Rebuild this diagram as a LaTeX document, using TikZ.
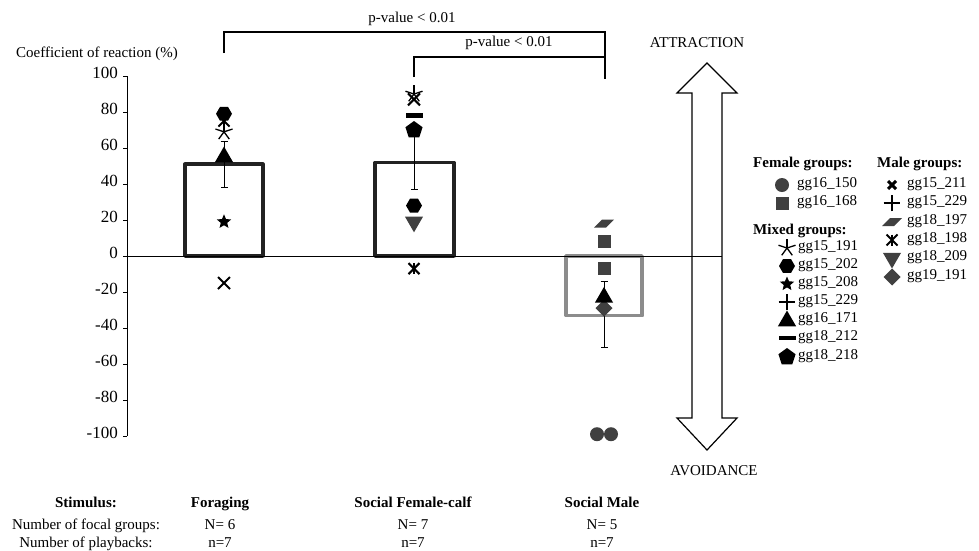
\documentclass[tikz,border=0pt]{standalone}
\usepackage{fontspec}
\setmainfont{Liberation Serif}
\usetikzlibrary{shapes.geometric,shapes.misc,shadows,arrows.meta}
\definecolor{mkgray}{RGB}{64,64,64}
\definecolor{barblack}{RGB}{34,34,34}
\definecolor{bargray}{RGB}{140,140,140}
\tikzstyle{lbl}=[inner sep=0pt, text height=1.5ex, text depth=.25ex]
\tikzstyle{mk}=[inner sep=0pt, outer sep=0pt]
\tikzstyle{fcirc}=[mk, circle, fill=mkgray, minimum size=14pt]
\tikzstyle{fsq}=[mk, rectangle, fill=mkgray, minimum size=13pt]
\tikzstyle{fstar}=[mk, star, star points=5, star point ratio=2.2, fill=black, minimum size=15pt]
\tikzstyle{fhex}=[mk, regular polygon, regular polygon sides=6, fill=black, minimum size=16pt]
\tikzstyle{fpent}=[mk, regular polygon, regular polygon sides=5, fill=black, minimum size=18pt]
\tikzstyle{ftri}=[mk, regular polygon, regular polygon sides=3, fill=black, minimum size=21pt]
\tikzstyle{fdtri}=[ftri, shape border rotate=180, fill=mkgray]
\tikzstyle{fdia}=[mk, diamond, fill=mkgray, minimum size=17pt]
\tikzstyle{fpar}=[mk, rectangle, fill=mkgray, minimum width=12pt, minimum height=8pt, xslant=1]
\tikzstyle{fdash}=[mk, rectangle, fill=black, minimum width=17pt, minimum height=4.5pt]
\tikzstyle{xbold}=[mk, cross out, draw, line width=3pt, minimum size=8pt]
\tikzstyle{xthin}=[mk, cross out, draw, line width=2pt, minimum size=12pt]
\tikzstyle{pls}=[mk, cross out, draw, rotate=45, line width=2.5pt, minimum size=12pt]
\tikzstyle{ast}=[mk, cross out, draw, line width=2pt, minimum size=11pt,
  append after command={(\tikzlastnode.north) edge[line width=2pt] (\tikzlastnode.south)}]
\tikzstyle{spk}=[mk, circle, minimum size=18pt,
  append after command={(\tikzlastnode.center) edge[line width=1.3pt] (\tikzlastnode.90)
    (\tikzlastnode.center) edge[line width=1.3pt] (\tikzlastnode.162)
    (\tikzlastnode.center) edge[line width=1.3pt] (\tikzlastnode.234)
    (\tikzlastnode.center) edge[line width=1.3pt] (\tikzlastnode.306)
    (\tikzlastnode.center) edge[line width=1.3pt] (\tikzlastnode.18)}]
\tikzstyle{bar}=[line width=3.5pt, line join=round, fill=white, drop shadow={opacity=0.3, shadow xshift=2pt, shadow yshift=-2pt}]
\tikzstyle{err}=[line width=0.8pt, {Bar[width=7pt]}-{Bar[width=7pt]}]
\tikzstyle{brk}=[line width=2.5pt]

\begin{document}
\begin{tikzpicture}[x=1pt, y=-1pt, font=\fontsize{15}{17}\selectfont]
\useasboundingbox[fill=white] (0,0) rectangle (979,550);

% attraction / avoidance arrow
\draw[line width=1.2pt, fill=white] (707,63) -- (737,93) -- (722,93) -- (722,418) -- (737,418)
  -- (707,450) -- (677,418) -- (692,418) -- (692,93) -- (677,93) -- cycle;
\node[lbl] (attr) at (697,45) {ATTRACTION};
\node[lbl] (avoid) at (714,473) {AVOIDANCE};

% axis title
\node[lbl] (ytitle) at (97,55) {Coefficient of reaction (\%)};

\begin{scope}[shift={(0,256)}, y=1.8pt]
  \foreach \v in {100,80,...,-100} {
    \draw (123,\v) -- (127,\v);
    \node[lbl, anchor=east, font=\fontsize{17}{19}\selectfont] (tick\v) at (118,\v) {\v};
  }
  \draw (127,100) -- (127,-100);

  % bars
  \draw[bar, draw=barblack] (185,0) rectangle (263,51);
  \draw[bar, draw=barblack] (375,0) rectangle (454,52);
  \draw[bar, draw=bargray] (566,0) rectangle (642,-33);
  \draw (127,0) -- (722,0);

  % error bars
  \draw[err] (224,38) -- (224,64);
  \draw[err] (414,37) -- (414,68);
  \draw[err] (604,-51) -- (604,-14);

  % Foraging
  \node[xthin] (fo1) at (224,-15) {};
  \node[fstar] (fo2) at (224,19) {};
  \node[ftri] (fo3) at (224,55) {};
  \node[spk] (fo4) at (224,69) {};
  \node[ast] (fo5) at (224,75) {};
  \node[fhex] (fo6) at (224,79) {};

  % Social Female-calf
  \node[ast] (fc1) at (414,-7) {};
  \node[fdtri] (fc2) at (414,19) {};
  \node[fhex] (fc3) at (414,28) {};
  \node[fpent] (fc4) at (414,70) {};
  \node[fdash] (fc5) at (414,78) {};
  \node[xthin] (fc6) at (414,87) {};
  \node[spk] (fc7) at (414,90) {};

  % Social Male
  \node[fcirc] (sm1) at (597,-99) {};
  \node[fcirc] (sm2) at (611,-99) {};
  \node[fdia] (sm3) at (604,-29) {};
  \node[ftri] (sm4) at (604,-23) {};
  \node[fsq] (sm5) at (604,-7) {};
  \node[fsq] (sm6) at (604,8) {};
  \node[fpar] (sm7) at (604,18) {};
\end{scope}

% significance brackets
\coordinate (b1a) at (224,53);
\coordinate (b1b) at (224,32);
\coordinate (b1c) at (605,32);
\coordinate (b1d) at (605,79);
\coordinate (b2a) at (414,77);
\coordinate (b2b) at (414,57);
\coordinate (b2c) at (605,57);
\draw[brk] (b1a) -- (b1b) -- (b1c) -- (b1d);
\draw[brk] (b2a) -- (b2b) -- (b2c);
\node[lbl] (p1) at (412,20) {p-value < 0.01};
\node[lbl] (p2) at (509,44) {p-value < 0.01};

% legend
\node[lbl, anchor=west, font=\fontsize{15}{17}\selectfont\bfseries] (fem) at (753,165) {Female groups:};
\node[fcirc] (lf1) at (782,185) {};
\node[lbl, anchor=west] (lf1t) at (797,185) {gg16\_150};
\node[fsq] (lf2) at (782,203) {};
\node[lbl, anchor=west] (lf2t) at (797,203) {gg16\_168};

\node[lbl, anchor=west, font=\fontsize{15}{17}\selectfont\bfseries] (mix) at (753,232) {Mixed groups:};
\node[spk] (lx1) at (787,248) {};
\node[lbl, anchor=west] (lx1t) at (798,248) {gg15\_191};
\node[fhex] (lx2) at (787,266) {};
\node[lbl, anchor=west] (lx2t) at (798,266) {gg15\_202};
\node[fstar] (lx3) at (787,284) {};
\node[lbl, anchor=west] (lx3t) at (798,284) {gg15\_208};
\node[pls] (lx4) at (787,302) {};
\node[lbl, anchor=west] (lx4t) at (798,302) {gg15\_229};
\node[ftri] (lx5) at (787,321) {};
\node[lbl, anchor=west] (lx5t) at (798,320) {gg16\_171};
\node[fdash] (lx6) at (787,338) {};
\node[lbl, anchor=west] (lx6t) at (798,338) {gg18\_212};
\node[fpent] (lx7) at (787,357) {};
\node[lbl, anchor=west] (lx7t) at (798,357) {gg18\_218};

\node[lbl, anchor=west, font=\fontsize{15}{17}\selectfont\bfseries] (male) at (877,165) {Male groups:};
\node[xbold] (lm1) at (892,185) {};
\node[lbl, anchor=west] (lm1t) at (907,185) {gg15\_211};
\node[pls] (lm2) at (892,203) {};
\node[lbl, anchor=west] (lm2t) at (907,203) {gg15\_229};
\node[fpar] (lm3) at (892,222) {};
\node[lbl, anchor=west] (lm3t) at (907,222) {gg18\_197};
\node[ast] (lm4) at (892,240) {};
\node[lbl, anchor=west] (lm4t) at (907,240) {gg18\_198};
\node[fdtri] (lm5) at (892,258) {};
\node[lbl, anchor=west] (lm5t) at (907,258) {gg18\_209};
\node[fdia] (lm6) at (892,277) {};
\node[lbl, anchor=west] (lm6t) at (907,277) {gg19\_191};

% table below the plot
\node[lbl, font=\fontsize{15}{17}\selectfont\bfseries] (stim) at (86,505) {Stimulus:};
\node[lbl] (nfoc) at (86,527) {Number of focal groups:};
\node[lbl] (npb) at (86,545) {Number of playbacks:};
\node[lbl, font=\fontsize{15}{17}\selectfont\bfseries] (forag) at (220,505) {Foraging};
\node[lbl] (forN) at (220,527) {N= 6};
\node[lbl] (forn) at (220,545) {n=7};
\node[lbl, font=\fontsize{15}{17}\selectfont\bfseries] (sfc) at (413,505) {Social Female-calf};
\node[lbl] (sfcN) at (413,527) {N= 7};
\node[lbl] (sfcn) at (413,545) {n=7};
\node[lbl, font=\fontsize{15}{17}\selectfont\bfseries] (smale) at (602,505) {Social Male};
\node[lbl] (smN) at (602,527) {N= 5};
\node[lbl] (smn) at (602,545) {n=7};
\end{tikzpicture}
\end{document}
